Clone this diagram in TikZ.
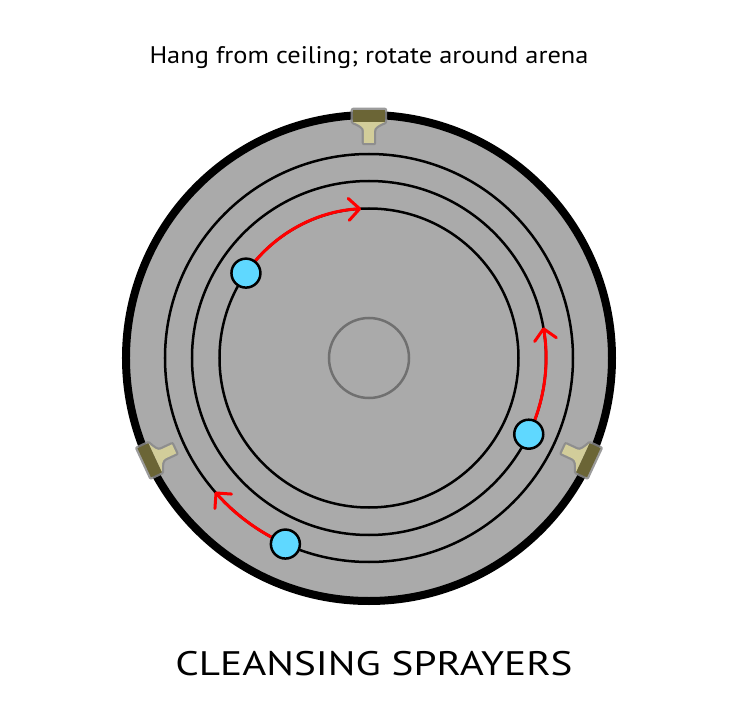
\documentclass[tikz,border=0pt]{standalone}
\usepackage{fontspec}
\setmainfont{PT Sans}
\usetikzlibrary{arrows.meta}
\definecolor{arena}{HTML}{AAAAAA}
\definecolor{hub}{HTML}{707070}
\definecolor{dotblue}{HTML}{5FD8FF}
\definecolor{doordark}{HTML}{6B6536}
\definecolor{doorlight}{HTML}{D2CD9A}
\definecolor{doorline}{HTML}{8A8A8A}
\definecolor{arrowred}{HTML}{FF0000}
\tikzset{
  ring/.style={draw=black, line width=2.5pt},
  sprayer/.style={circle, fill=dotblue, draw=black, line width=2.5pt, minimum size=29pt, inner sep=0pt},
  motion/.style={draw=arrowred, line width=3pt, line cap=round, -{Straight Barb[length=11pt,width=22pt,round]}},
  door/.pic={
    \path[draw=doorline, line width=4.5pt, line join=round, draw opacity=0.85]
      (-16,248) -- (16,248) -- (16,236) .. controls (9,233) and (5,231) .. (5,227) -- (5,215) -- (-5,215) -- (-5,227) .. controls (-5,231) and (-9,233) .. (-16,236) -- cycle;
    \fill[doorlight]
      (-16,236) -- (16,236) .. controls (9,233) and (5,231) .. (5,227) -- (5,215) -- (-5,215) -- (-5,227) .. controls (-5,231) and (-9,233) .. (-16,236) -- cycle;
    \fill[doordark] (-16,236) rectangle (16,248);
  }
}
\begin{document}
\begin{tikzpicture}[x=1pt,y=1pt]
\useasboundingbox (-369,-362) rectangle (378,358);
\fill[white] (-369,-362) rectangle (378,358);
% arena
\draw[line width=8pt, fill=arena] (0,0) circle (243);
\draw[ring] (0,0) circle (204);
\draw[ring] (0,0) circle (177);
\draw[ring] (0,0) circle (149.5);
\draw[hub, line width=2.5pt] (0,0) circle (40);
% doors
\pic[rotate=0] at (0,0) {door};
\pic[rotate=115] at (0,0) {door};
\pic[rotate=-115] at (0,0) {door};
% arrows
\draw[motion] (139.7:149.5) arc[start angle=139.7, end angle=93, radius=149.5];
\draw[motion] (-20.6:177) arc[start angle=-20.6, end angle=10, radius=177];
\draw[motion] (241.6:204) arc[start angle=241.6, end angle=221, radius=204];
% sprayers
\node[sprayer] (s1) at (145.4:149.5) {};
\node[sprayer] (s2) at (-25.5:177) {};
\node[sprayer] (s3) at (245.8:204) {};
% texts
\node[font=\fontsize{24}{27}\selectfont] (caption) at (0,300) {\scalebox{1.1}[1]{Hang from ceiling; rotate around arena}};
\node[font=\fontsize{34}{38}\selectfont] (title) at (5,-306) {\scalebox{1.21}[1]{CLEANSING SPRAYERS}};
\end{tikzpicture}
\end{document}
